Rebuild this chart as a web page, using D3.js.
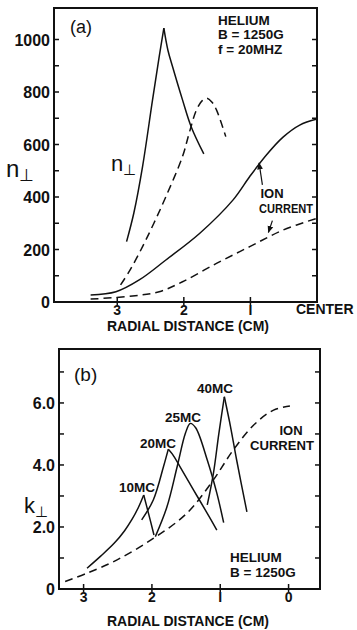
<!DOCTYPE html>
<html>
<head>
<meta charset="utf-8">
<script src="https://cdn.jsdelivr.net/npm/d3@7"></script>
<style>
  body { margin: 0; background: #fff; }
  svg text { font-family: "Liberation Sans", Arial, sans-serif; fill: #111; }
</style>
</head>
<body>
<div id="chart"></div>
<script>
// ---- panel (a) data : [radial distance cm, value] ----
const nPerpSolid = [[2.86, 230], [2.75, 340], [2.62, 516], [2.47, 770], [2.37, 935], [2.30, 1043],
  [2.24, 960], [2.17, 897], [2.02, 770], [1.89, 668], [1.70, 564]];
const nPerpDashed = [[2.95, 65], [2.80, 125], [2.62, 211], [2.45, 300], [2.27, 401], [2.02, 554],
  [1.92, 643], [1.81, 732], [1.72, 768], [1.655, 776], [1.58, 762], [1.51, 732], [1.37, 630]];
const ionSolidA = [[3.40, 27], [3.02, 39], [2.67, 84], [2.27, 160], [1.76, 262], [1.26, 389],
  [1.01, 478], [0.76, 560], [0.51, 628], [0.26, 674], [0.0, 697]];
const ionDashedA = [[3.40, 11], [2.77, 23], [2.37, 39], [2.02, 77], [1.51, 147], [1.01, 211],
  [0.51, 274], [0.0, 319]];
const yTicksA = [0, 200, 400, 600, 800, 1000];
const xTicksA = [3, 2, 1];

// ---- panel (b) data ----
const k10 = [[2.95, 0.67], [2.75, 1.06], [2.55, 1.48], [2.40, 1.88], [2.29, 2.25], [2.20, 2.62], [2.12, 3.03], [2.05, 2.44], [1.97, 1.74]];
const k20 = [[2.15, 2.23], [1.98, 2.87], [1.83, 3.95], [1.76, 4.51], [1.70, 4.35], [1.59, 3.95], [1.39, 3.19], [1.19, 2.44], [1.05, 1.90]];
const k25 = [[1.95, 1.69], [1.78, 2.65], [1.63, 3.95], [1.51, 5.02], [1.44, 5.34], [1.36, 5.20], [1.19, 4.16], [1.05, 3.09], [0.95, 2.14]];
const k40 = [[1.19, 2.71], [1.10, 3.73], [1.02, 5.02], [0.94, 6.20], [0.85, 5.24], [0.76, 4.16], [0.61, 2.49]];
const ionDashedB = [[3.27, 0.24], [2.95, 0.51], [2.51, 0.94], [1.98, 1.63], [1.49, 2.44], [1.10, 3.52],
  [0.81, 4.48], [0.51, 5.29], [0.22, 5.77], [-0.02, 5.90]];
const kLabels = ["10MC", "20MC", "25MC", "40MC"];
const yTicksB = [0, 2, 4, 6];
const xTicksB = [3, 2, 1, 0];

const svg = d3.select("#chart").append("svg")
  .attr("width", 357).attr("height", 630);

function line(x, y, pts) {
  return d3.line().x(d => x(d[0])).y(d => y(d[1])).curve(d3.curveCatmullRom.alpha(0.5))(pts);
}
// cusp curves: split at peak so each side keeps its own slope
function drawCurve(g, x, y, pts, dashed, cusp) {
  let parts = [pts];
  if (cusp) {
    const i = d3.maxIndex(pts, d => d[1]);
    parts = [pts.slice(0, i + 1), pts.slice(i)];
  }
  parts.forEach(p => {
    g.append("path")
      .attr("d", line(x, y, p))
      .attr("fill", "none").attr("stroke", "#111").attr("stroke-width", 1.5)
      .attr("stroke-dasharray", dashed ? "8,5" : null);
  });
}

function frame(x, y, yMinor, yTicks, xTicks, fmt, labX) {
  const [x0, x1] = x.range(), [y0, y1] = y.range();
  const g = svg.append("g");
  g.append("rect").attr("x", x0).attr("y", y1).attr("width", x1 - x0).attr("height", y0 - y1)
    .attr("fill", "none").attr("stroke", "#111").attr("stroke-width", 2);
  yMinor.forEach(v => {
    g.append("line").attr("x1", x0).attr("x2", x0 + 5).attr("y1", y(v)).attr("y2", y(v)).attr("stroke", "#111").attr("stroke-width", 1.5);
    g.append("line").attr("x1", x1).attr("x2", x1 - 5).attr("y1", y(v)).attr("y2", y(v)).attr("stroke", "#111").attr("stroke-width", 1.5);
  });
  yTicks.forEach(v => {
    g.append("text").attr("x", labX).attr("y", y(v) + 6).attr("text-anchor", "end")
      .style("font-weight", "bold").attr("font-size", 16).text(fmt(v));
  });
  xTicks.forEach(v => {
    g.append("line").attr("x1", x(v)).attr("x2", x(v)).attr("y1", y0 - 5).attr("y2", y0 + 3).attr("stroke", "#111").attr("stroke-width", 1.5);
    g.append("text").attr("x", x(v)).attr("y", y0 + 13).attr("text-anchor", "middle")
      .style("font-weight", "bold").attr("font-size", 14).text(v === 1 ? "I" : v);
  });
  return g;
}

function txt(x, y, s, size, anchor, weight) {
  return svg.append("text").attr("x", x).attr("y", y).attr("font-size", size)
    .attr("text-anchor", anchor || "start").style("font-weight", weight || "bold").text(s);
}
function perpLabel(x, y, letter, size) {
  const t = svg.append("text").attr("x", x).attr("y", y).attr("font-size", size).style("font-weight", "normal");
  t.append("tspan").text(letter);
  t.append("tspan").attr("font-size", size * 0.7).attr("dy", 4).text("⊥");
}

// ================= panel (a) =================
const xa = d3.scaleLinear().domain([3.95, 0]).range([54, 317]);
const ya = d3.scaleLinear().domain([0, 1120]).range([302, 8]);
const ga = frame(xa, ya, d3.range(100, 1100, 100), yTicksA, xTicksA, d => d, 50);

drawCurve(ga, xa, ya, nPerpSolid, false, true);
drawCurve(ga, xa, ya, nPerpDashed, true, false);
drawCurve(ga, xa, ya, ionSolidA, false, false);
drawCurve(ga, xa, ya, ionDashedA, true, false);

txt(296, 314, "CENTER", 14);
txt(188, 331, "RADIAL DISTANCE (CM)", 14, "middle");
txt(70, 33, "(a)", 18, "start", "normal");
txt(218, 25, "HELIUM", 13.5);
txt(218, 39, "B = 1250G", 13.5);
txt(218, 54, "f = 20MHZ", 13.5);
perpLabel(6, 177, "n", 24);
perpLabel(111, 171, "n", 22);
txt(272, 198, "ION", 13, "middle");
txt(286, 213, "CURRENT", 13, "middle").attr("textLength", 54).attr("lengthAdjust", "spacingAndGlyphs");

svg.append("defs").append("marker").attr("id", "ah").attr("viewBox", "0 0 10 10")
  .attr("refX", 9).attr("refY", 5).attr("markerWidth", 6).attr("markerHeight", 6).attr("orient", "auto")
  .append("path").attr("d", "M0,1L10,5L0,9z").attr("fill", "#111");
[[[0.82, 446], [0.87, 530]], [[0.67, 310], [0.73, 265]]].forEach(([a, b]) => {
  ga.append("line").attr("x1", xa(a[0])).attr("y1", ya(a[1])).attr("x2", xa(b[0])).attr("y2", ya(b[1]))
    .attr("stroke", "#111").attr("stroke-width", 1.2).attr("marker-end", "url(#ah)");
});

// ================= panel (b) =================
const xb = d3.scaleLinear().domain([3.36, -0.46]).range([59, 320]);
const yb = d3.scaleLinear().domain([0, 7.74]).range([589, 349]);
const gb = frame(xb, yb, d3.range(1, 8, 1), yTicksB, xTicksB, d => d === 0 ? "0" : d3.format(".1f")(d), 55);

[k10, k20, k25, k40].forEach((k, i) => drawCurve(gb, xb, yb, k, false, i !== 2));
drawCurve(gb, xb, yb, ionDashedB, true, false);

const kLabelPos = [[119, 492], [140, 448], [165, 422], [197, 393]];
kLabels.forEach((s, i) => txt(kLabelPos[i][0], kLabelPos[i][1], s, 13.5));
txt(291, 435, "ION", 13, "middle");
txt(282, 450, "CURRENT", 13, "middle").attr("textLength", 64).attr("lengthAdjust", "spacingAndGlyphs");
txt(230, 562, "HELIUM", 13.5);
txt(230, 577, "B = 1250G", 13.5);
txt(74, 381, "(b)", 19, "start", "normal");
perpLabel(24, 513, "k", 22);
txt(188, 626, "RADIAL DISTANCE (CM)", 14, "middle");
</script>
</body>
</html>
